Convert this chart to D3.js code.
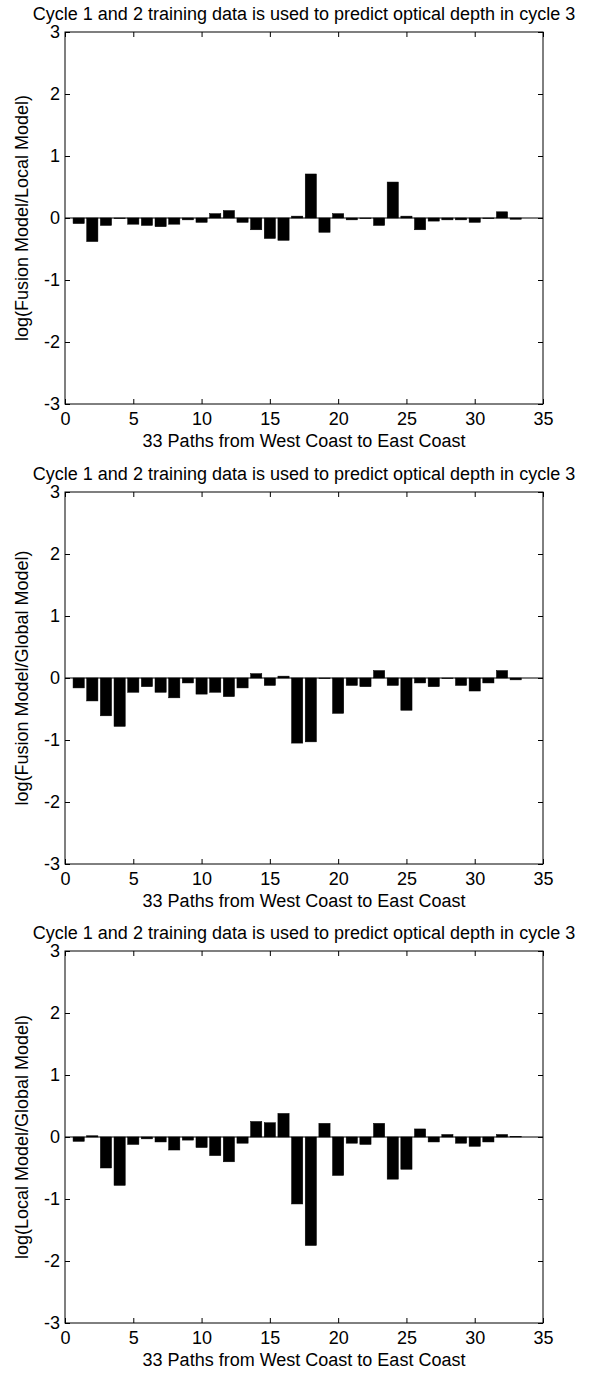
<!DOCTYPE html>
<html><head><meta charset="utf-8">
<script src="https://cdn.jsdelivr.net/npm/d3@7"></script>
<style>
body{margin:0;background:#fff}
svg{display:block}
text{font-family:"Liberation Sans",Arial,sans-serif;fill:#000}
</style>
</head><body>
<svg id="c" width="589" height="1373"></svg>
<script>
// ---- data ----
const paths = [1,2,3,4,5,6,7,8,9,10,11,12,13,14,15,16,17,18,19,20,21,22,23,24,25,26,27,28,29,30,31,32,33];
const fusionLocal = [-0.09,-0.38,-0.12,-0.01,-0.10,-0.12,-0.14,-0.10,-0.03,-0.07,0.07,0.12,-0.07,-0.19,-0.33,-0.36,0.03,0.71,-0.23,0.07,-0.03,-0.01,-0.12,0.58,0.03,-0.19,-0.05,-0.03,-0.03,-0.07,-0.01,0.10,-0.02];
const fusionGlobal = [-0.16,-0.37,-0.61,-0.78,-0.23,-0.14,-0.23,-0.32,-0.08,-0.26,-0.23,-0.30,-0.16,0.07,-0.12,0.03,-1.05,-1.03,-0.01,-0.57,-0.12,-0.14,0.12,-0.12,-0.52,-0.08,-0.14,0.00,-0.12,-0.21,-0.08,0.12,-0.03];
const localGlobal = [-0.07,0.02,-0.50,-0.78,-0.12,-0.03,-0.08,-0.21,-0.05,-0.17,-0.30,-0.40,-0.10,0.25,0.23,0.38,-1.08,-1.75,0.22,-0.62,-0.10,-0.12,0.22,-0.68,-0.52,0.13,-0.08,0.04,-0.10,-0.15,-0.08,0.04,0.01];
const titles = [
  "Cycle 1 and 2 training data is used to predict optical depth in cycle 3",
  "Cycle 1 and 2 training data is used to predict optical depth in cycle 3",
  "Cycle 1 and 2 training data is used to predict optical depth in cycle 3"
];
const yLabels = ["log(Fusion Model/Local Model)","log(Fusion Model/Global Model)","log(Local Model/Global Model)"];
const xLabel = "33 Paths from West Coast to East Coast";
const xTicks = [0,5,10,15,20,25,30,35];
const yTicks = [-3,-2,-1,0,1,2,3];
const series = [fusionLocal, fusionGlobal, localGlobal];

// ---- layout ----
const svg = d3.select("#c");
const L = 65, R = 543, H = 372;
const tops = [32, 492, 951];
const FS = 18;
const fmt = d => String(d);

const x = d3.scaleLinear().domain([0,35]).range([L,R]);
const bw = (x(1)-x(0))*0.82;

series.forEach((vals, k) => {
  const top = tops[k], bot = top + H;
  const y = d3.scaleLinear().domain([-3,3]).range([bot, top]);
  const g = svg.append("g");

  // bars
  g.selectAll("rect.bar").data(vals).enter().append("rect")
    .attr("class","bar")
    .attr("x",(d,i)=>x(paths[i])-bw/2)
    .attr("width",bw)
    .attr("y",d=>y(Math.max(0,d)))
    .attr("height",d=>Math.max(0.6,Math.abs(y(d)-y(0))))
    .attr("fill","#000")
    .attr("stroke","#000").attr("stroke-width",0.5);

  // baseline
  g.append("line").attr("x1",L).attr("x2",R).attr("y1",y(0)).attr("y2",y(0))
    .attr("stroke","#000").attr("stroke-width",1);

  // axes
  g.append("g").attr("transform",`translate(0,${bot})`)
    .call(d3.axisBottom(x).tickValues(xTicks).tickSize(-5).tickSizeOuter(0).tickPadding(8).tickFormat(fmt));
  g.append("g").attr("transform",`translate(${L},0)`)
    .call(d3.axisLeft(y).tickValues(yTicks).tickSize(-5).tickSizeOuter(0).tickPadding(5).tickFormat(fmt));
  g.append("g").attr("transform",`translate(0,${top})`)
    .call(d3.axisTop(x).tickValues(xTicks).tickSize(-5).tickSizeOuter(0).tickFormat(""));
  g.append("g").attr("transform",`translate(${R},0)`)
    .call(d3.axisRight(y).tickValues(yTicks).tickSize(-5).tickSizeOuter(0).tickFormat(""));
  g.selectAll(".domain").remove();
  g.selectAll(".tick line").attr("stroke","#000");
  g.selectAll(".tick text").attr("font-size",FS).attr("font-family",'"Liberation Sans",Arial,sans-serif');

  // box
  g.append("rect").attr("x",L).attr("y",top).attr("width",R-L).attr("height",H)
    .attr("fill","none").attr("stroke","#000").attr("stroke-width",1);

  // title
  g.append("text").attr("x",(L+R)/2).attr("y",top-12).attr("text-anchor","middle")
    .attr("font-size",FS).text(titles[k]);
  // x label
  g.append("text").attr("x",(L+R)/2).attr("y",bot+43).attr("text-anchor","middle")
    .attr("font-size",FS).text(xLabel);
  // y label
  g.append("text").attr("transform",`translate(28,${(top+bot)/2}) rotate(-90)`)
    .attr("text-anchor","middle").attr("font-size",FS).text(yLabels[k]);
});
</script>
</body></html>
